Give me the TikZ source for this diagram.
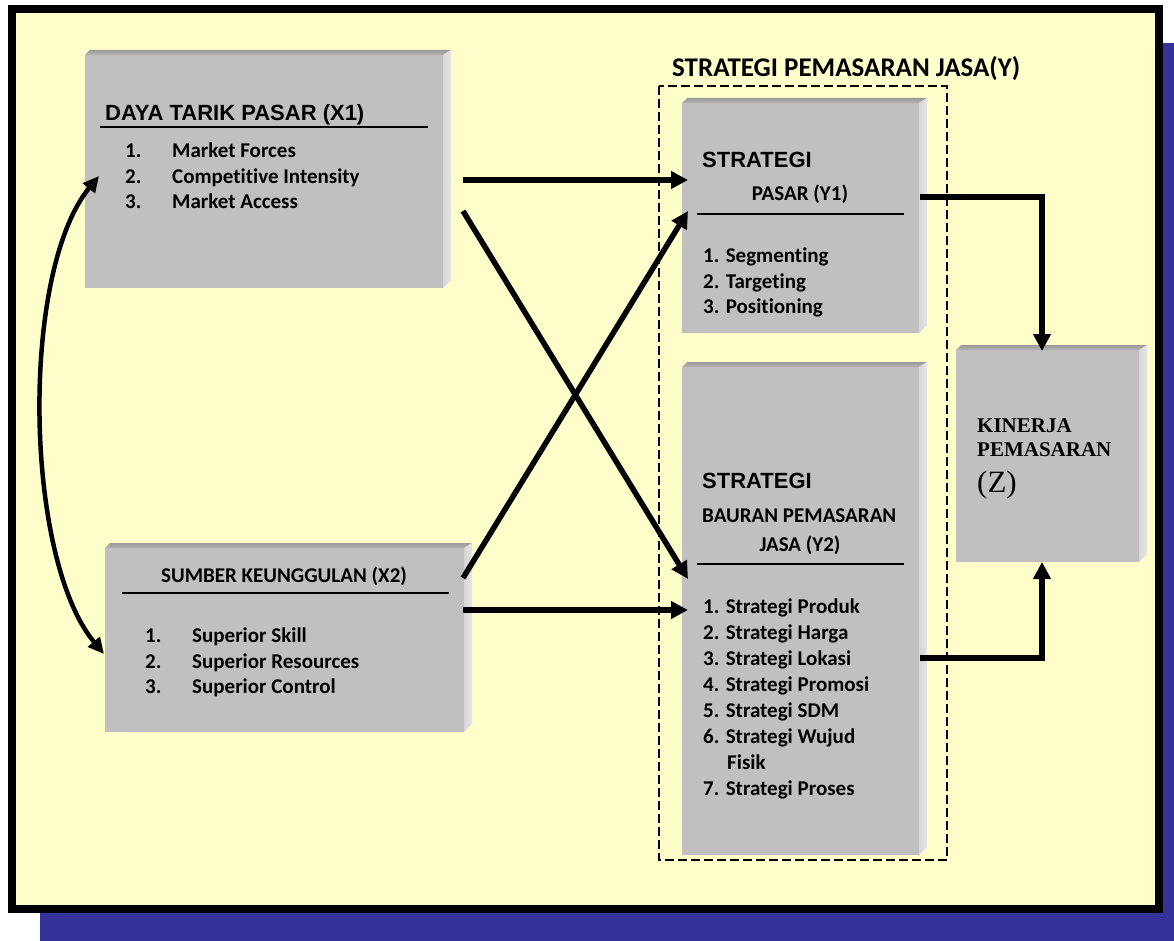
\documentclass[tikz,border=0pt]{standalone}
\usepackage{fontspec}
\usetikzlibrary{arrows.meta,calc}
\newfontfamily\fArial{Liberation Sans}
\newfontfamily\fCal{Carlito}[Ligatures=NoCommon]
\newfontfamily\fTimes{Liberation Serif}
\definecolor{paper}{HTML}{FFFFCC}
\definecolor{shadowblue}{HTML}{333399}
\definecolor{face}{HTML}{C0C0C0}
\definecolor{bevtop}{HTML}{9A9A9A}
\definecolor{bevtoplow}{HTML}{B4B4B4}
\definecolor{bevside}{HTML}{E6E6E6}
\definecolor{bevsidedark}{HTML}{D6D6D6}

\tikzset{
  boxface/.style={fill=face, draw=none, inner sep=0pt, outer sep=0pt},
  hd/.style={font=\fArial\bfseries\fontsize{22pt}{26pt}\selectfont, anchor=base west, inner sep=0pt},
  sub/.style={font=\fCal\bfseries\fontsize{21pt}{25pt}\selectfont, anchor=base west, inner sep=0pt},
  item/.style={font=\fCal\bfseries\fontsize{21pt}{25pt}\selectfont, anchor=base west, inner sep=0pt},
  serifhd/.style={font=\fTimes\bfseries\fontsize{21pt}{24pt}\selectfont, anchor=base west, inner sep=0pt},
  rule/.style={line width=1.4pt},
  flow/.style={line width=5.5pt, -{Triangle[length=17pt,width=17pt]}},
  link/.style={line width=4.5pt, {Triangle[length=16pt,width=15pt]}-{Triangle[length=16pt,width=15pt]}},
  group/.style={line width=1.5pt, dash pattern=on 9pt off 4pt},
}

% raised grey panel: name, left, top, right, bottom (outer extents)
\newcommand\bevelbox[5]{%
  \node[boxface, anchor=north west,
        minimum width={#4-#2-8}, minimum height={#5-#3-5}] (#1) at (#2,#3+5) {};
  \shade[top color=bevtop, bottom color=bevtoplow]
    (#2,#3+5) -- (#2+5,#3) -- (#4,#3) -- (#4-8,#3+5) -- cycle;
  \shade[left color=bevsidedark, right color=bevside]
    (#4-8,#3+5) -- (#4,#3) -- (#4,#5-8) -- (#4-8,#5) -- cycle;
}

\begin{document}
\begin{tikzpicture}[x=1pt,y=-1pt]
\useasboundingbox (0,0) rectangle (1174,941);
\fill[white] (0,0) rectangle (1174,941);

% frame with drop shadow
\fill[shadowblue] (40,43) rectangle (1174,941);
\fill[paper] (12,9) rectangle (1159,909);
\draw[line width=8pt] (12,9) rectangle (1159,909);

% panels
\bevelbox{x1}{85}{50}{451}{288}
\bevelbox{x2}{105}{543}{472}{732}
\bevelbox{y1}{682}{98}{927}{333}
\bevelbox{y2}{682}{362}{927}{855}
\bevelbox{z}{956}{345}{1147}{562}

% group of the two strategies
\draw[group] (659,86) rectangle (947,860);
\node[font=\fCal\bfseries\fontsize{27pt}{31pt}\selectfont, anchor=base west, inner sep=0pt]
  (ytitle) at (672,77) {STRATEGI PEMASARAN JASA(Y)};

% X1
\node[hd] (x1t) at (105,121) {DAYA TARIK PASAR (X1)};
\draw[rule] (100,127) -- (428,127);
\node[item] (x1n1) at (125,158) {1.};
\node[item] (x1i1) at (172,158) {Market Forces};
\node[item] (x1n2) at (125,184) {2.};
\node[item] (x1i2) at (172,184) {Competitive Intensity};
\node[item] (x1n3) at (125,209) {3.};
\node[item] (x1i3) at (172,209) {Market Access};

% X2
\node[sub, anchor=base] (x2t) at (284,582) {SUMBER KEUNGGULAN (X2)};
\draw[rule] (122,593) -- (449,593);
\node[item] (x2n1) at (145,642) {1.};
\node[item] (x2i1) at (192,642) {Superior Skill};
\node[item] (x2n2) at (145,668) {2.};
\node[item] (x2i2) at (192,668) {Superior Resources};
\node[item] (x2n3) at (145,693) {3.};
\node[item] (x2i3) at (192,693) {Superior Control};

% Y1
\node[hd] (y1t) at (702,168) {STRATEGI};
\node[sub, anchor=base] (y1s) at (800,201) {PASAR (Y1)};
\draw[rule] (697,214) -- (904,214);
\node[item] (y1i1) at (703,262) {1. Segmenting};
\node[item] (y1i2) at (703,288) {2. Targeting};
\node[item] (y1i3) at (703,313) {3. Positioning};

% Y2
\node[hd] (y2t) at (702,488) {STRATEGI};
\node[sub] (y2s) at (702,522) {BAURAN PEMASARAN};
\node[sub, anchor=base] (y2s2) at (800,551) {JASA (Y2)};
\draw[rule] (697,564) -- (904,564);
\node[item] (y2i1) at (703,613) {1. Strategi Produk};
\node[item] (y2i2) at (703,639) {2. Strategi Harga};
\node[item] (y2i3) at (703,665) {3. Strategi Lokasi};
\node[item] (y2i4) at (703,691) {4. Strategi Promosi};
\node[item] (y2i5) at (703,717) {5. Strategi SDM};
\node[item] (y2i6) at (703,743) {6. Strategi Wujud};
\node[item] (y2i6b) at (727,769) {Fisik};
\node[item] (y2i7) at (703,795) {7. Strategi Proses};

% Z
\node[serifhd] (zt1) at (977,432) {KINERJA};
\node[serifhd] (zt2) at (977,456) {PEMASARAN};
\node[font=\fTimes\fontsize{31pt}{35pt}\selectfont, anchor=base west, inner sep=0pt]
  (zt3) at (977,492) {(Z)};

% connector ends
\coordinate (x1a) at (463,180);
\coordinate (x1b) at (463,211);
\coordinate (x2a) at (463,578);
\coordinate (x2b) at (463,610);
\coordinate (y1a) at (688,180);
\coordinate (y1b) at (688,211);
\coordinate (y2a) at (688,579);
\coordinate (y2b) at (688,610);
\coordinate (y1out) at (920,197);
\coordinate (y2out) at (920,658);
\coordinate (ztop) at (1042,351);
\coordinate (zbot) at (1042,562);
\coordinate (x1side) at (99,176);
\coordinate (x2side) at (104,654);

% connectors
\draw[flow] (x1a) -- (y1a);
\draw[flow] (x1b) -- (y2a);
\draw[flow] (x2a) -- (y1b);
\draw[flow] (x2b) -- (y2b);
\draw[flow] (y1out) -| (ztop);
\draw[flow] (y2out) -| (zbot);
\draw[link] (x1side) .. controls (20,272) and (24,558) .. (x2side);
\end{tikzpicture}
\end{document}
